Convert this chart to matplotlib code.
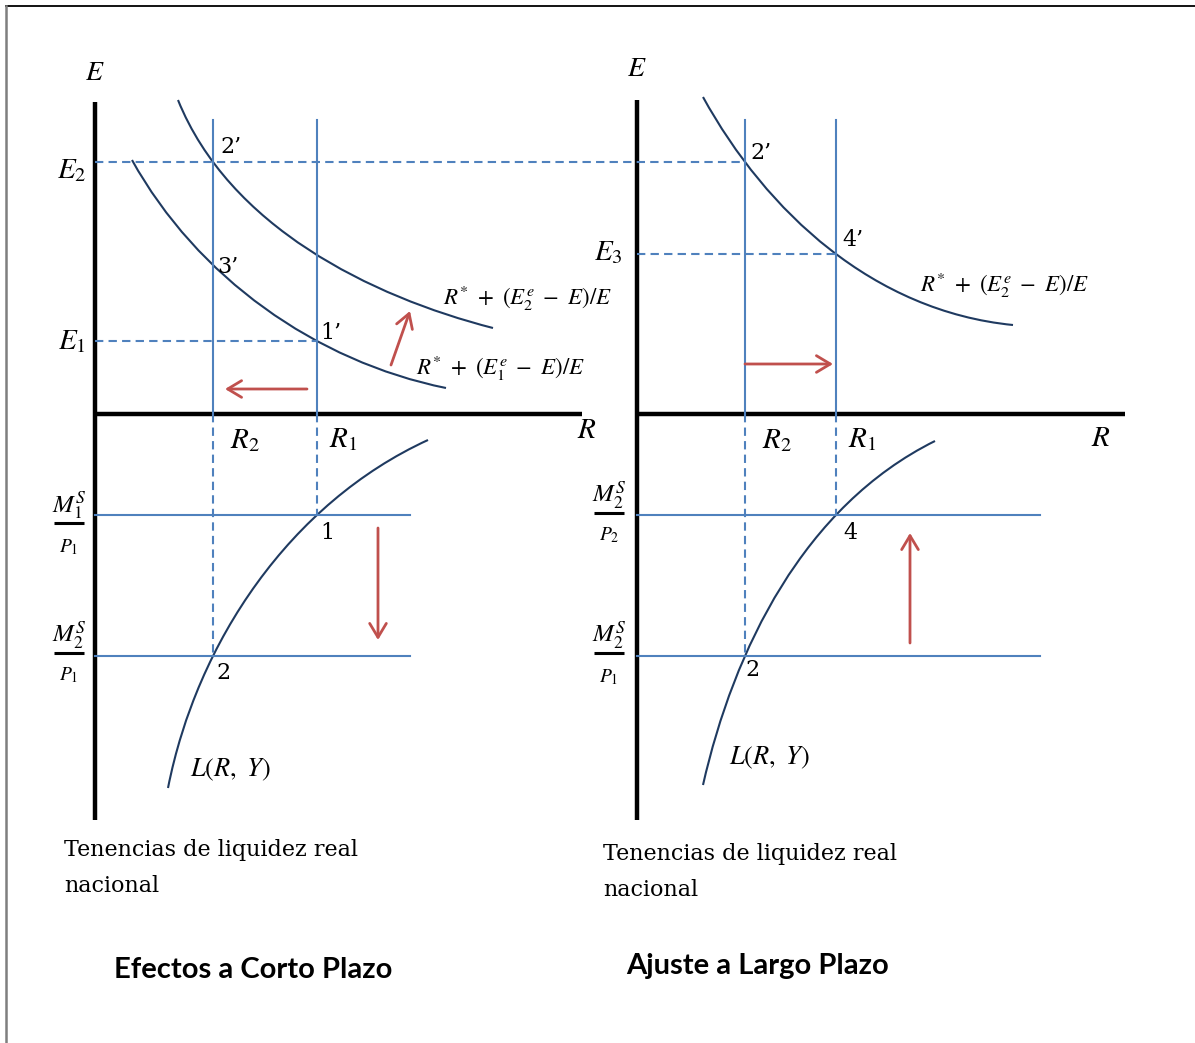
import numpy as np
import matplotlib
matplotlib.use("Agg")
import matplotlib.pyplot as plt
from matplotlib.path import Path
from matplotlib.patches import PathPatch

plt.rcParams["mathtext.fontset"] = "stix"

# everything is laid out on a 1195 x 1043 canvas, y grows downward
W, H = 1195, 1043

# axes: (x of vertical axis, y of horizontal axis, top of E axis, bottom, right end of R axis)
left_axes = (95, 414, 102, 820, 582)
right_axes = (637, 414, 100, 820, 1125)

# interest rates (x) and exchange rates / money levels (y)
left_R = {"R_2": 213, "R_1": 317}
right_R = {"R_2": 745, "R_1": 836}
E_levels = {"E_2": 162, "E_1": 341, "E_3": 254}
M_levels = {"high": 515, "low": 656}

# points
left_return_2 = [(178, 100), (213, 162), (317, 255), (493, 328)]
left_return_1 = [(132, 160), (213, 265), (317, 341), (446, 388)]
left_money = [(168, 788), (213, 656), (317, 515), (428, 440)]
right_return_2 = [(703, 97), (745, 162), (836, 254), (1013, 325)]
right_money = [(703, 785), (745, 656), (836, 515), (935, 441)]

# shift arrows: (tail, head)
arrows = [
    ((307, 389), (225, 389)),
    ((391, 365), (410, 311)),
    ((378, 528), (378, 640)),
    ((745, 364), (833, 364)),
    ((910, 643), (910, 533)),
]

BLUE = "#4F81BD"
NAVY = "#1F3A60"
RED = "#C0504D"
SERIF = "DejaVu Serif"


def bezier_through(pts):
    # cubic Bezier passing through the four given points (chord-length params)
    p = np.asarray(pts, float)
    d = np.r_[0, np.cumsum(np.hypot(*np.diff(p, axis=0).T))]
    t = d / d[-1]
    B = np.stack([(1 - t) ** 3, 3 * t * (1 - t) ** 2, 3 * t ** 2 * (1 - t), t ** 3], axis=1)
    ctrl = np.linalg.solve(B, p)
    return Path(ctrl, [Path.MOVETO, Path.CURVE4, Path.CURVE4, Path.CURVE4])


fig = plt.figure(figsize=(W / 100, H / 100), dpi=100)
ax = fig.add_axes([0, 0, 1, 1])
ax.set_xlim(0, W)
ax.set_ylim(H, 0)
ax.axis("off")

# page frame
ax.plot([6, W], [6, 6], color="black", lw=1.3)
ax.plot([6, 6], [6, H], color="#7f7f7f", lw=1.8)


def dashed(xs, ys):
    ax.plot(xs, ys, color=BLUE, lw=1.5, dashes=(4, 2.5))


def draw_panel(axes, R, curves, money, E_top_label):
    x0, y0, ytop, ybot, xr = axes
    ax.plot([x0, x0], [ytop, ybot], color="black", lw=3.2, solid_capstyle="butt")
    ax.plot([x0, xr], [y0, y0], color="black", lw=3.2, solid_capstyle="butt")
    ax.text(x0, E_top_label, "$E$", fontsize=20, ha="center", va="center")

    # vertical R lines above, dashed drop below
    r2, r1 = R["R_2"], R["R_1"]
    for x in (r2, r1):
        ax.plot([x, x], [120, y0], color=BLUE, lw=1.5)
    dashed([r2, r2], [y0, M_levels["low"]])
    dashed([r1, r1], [y0, M_levels["high"]])

    # real money supply lines
    x_end = 410 if x0 < 300 else 1040
    for y in M_levels.values():
        ax.plot([x0, x_end], [y, y], color=BLUE, lw=1.5)

    for pts in curves:
        ax.add_patch(PathPatch(bezier_through(pts), fc="none", ec=NAVY, lw=1.5))
    ax.add_patch(PathPatch(bezier_through(money), fc="none", ec=NAVY, lw=1.5))

    ax.text(r2 + 32, 440, "$R_2$", fontsize=21, ha="center", va="center")
    ax.text(r1 + 26, 439, "$R_1$", fontsize=21, ha="center", va="center")


draw_panel(left_axes, left_R, [left_return_2, left_return_1], left_money, 72)
draw_panel(right_axes, right_R, [right_return_2], right_money, 68)

# exchange rate guides
dashed([left_axes[0], right_R["R_2"]], [E_levels["E_2"]] * 2)
dashed([left_axes[0], left_R["R_1"]], [E_levels["E_1"]] * 2)
dashed([right_axes[0], right_R["R_1"]], [E_levels["E_3"]] * 2)

ax.text(72, 170, "$E_2$", fontsize=21, ha="center", va="center")
ax.text(72, 341, "$E_1$", fontsize=21, ha="center", va="center")
ax.text(608, 252, "$E_3$", fontsize=21, ha="center", va="center")
ax.text(587, 430, "$R$", fontsize=21, ha="center", va="center")
ax.text(1101, 438, "$R$", fontsize=21, ha="center", va="center")

# expected return curve labels
lab2 = r"$R^{*}\ +\ (E_2^{e}\ -\ E)/E$"
lab1 = r"$R^{*}\ +\ (E_1^{e}\ -\ E)/E$"
ax.text(443, 298, lab2, fontsize=16.5, ha="left", va="center")
ax.text(416, 368, lab1, fontsize=16.5, ha="left", va="center")
ax.text(920, 285, lab2, fontsize=16.5, ha="left", va="center")
ax.text(190, 770, "$L(R,\\ Y)$", fontsize=19, ha="left", va="center")
ax.text(729, 758, "$L(R,\\ Y)$", fontsize=19, ha="left", va="center")

# equilibrium point labels
points = [("2’", 231, 147), ("3’", 228, 267), ("1’", 331, 333),
          ("2’", 761, 153), ("4’", 853, 240),
          ("1", 327, 533), ("2", 224, 673), ("4", 850, 533), ("2", 753, 670)]
for s, x, y in points:
    ax.text(x, y, s, fontsize=16, family=SERIF, ha="center", va="center")

# real money supply fractions: x, numerator, denominator, baselines and bar height
fractions = [(69, "M_1^S", "P_1", 513, 523, 552),
             (69, "M_2^S", "P_1", 643, 653, 680),
             (609, "M_2^S", "P_2", 503, 513, 540),
             (609, "M_2^S", "P_1", 643, 653, 682)]
for xc, num, den, yn, yb, yd in fractions:
    ax.text(xc, yn, f"${num}$", fontsize=18, ha="center", va="baseline")
    ax.plot([xc - 15, xc + 15], [yb, yb], color="black", lw=2.2, solid_capstyle="butt")
    ax.text(xc, yd, f"${den}$", fontsize=14, ha="center", va="baseline")

for tail, head in arrows:
    ax.annotate("", xy=head, xytext=tail,
                arrowprops=dict(arrowstyle="->,head_length=0.5,head_width=0.3",
                                mutation_scale=20, color=RED, lw=2,
                                shrinkA=0, shrinkB=0))

# captions
for x, y in ((64, 850), (603, 854)):
    ax.text(x, y, "Tenencias de liquidez real", fontsize=16, family=SERIF, ha="left", va="center")
    ax.text(x, y + 36, "nacional", fontsize=16, family=SERIF, ha="left", va="center")

ax.text(253, 970, "Efectos a Corto Plazo", fontsize=21, family="Lato", weight="bold",
        ha="center", va="center")
ax.text(758, 966, "Ajuste a Largo Plazo", fontsize=21, family="Lato", weight="bold",
        ha="center", va="center")

fig.savefig("out.png", dpi=100)
